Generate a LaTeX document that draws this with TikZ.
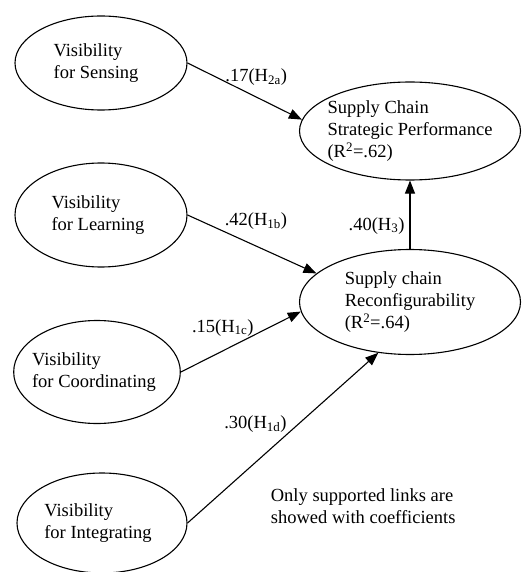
\documentclass[tikz,border=0pt]{standalone}
\usepackage{fontspec}
\setmainfont{Liberation Serif}
\usetikzlibrary{shapes,positioning,arrows.meta}

\begin{document}
\begin{tikzpicture}[x=1pt,y=1pt,on grid,>={Triangle[length=13pt,width=10pt]},
   line width=1.1pt,font=\fontsize{18.5pt}{22pt}\selectfont,
   construct/.style={draw,ellipse,align=left,inner xsep=-6pt,inner ysep=0pt,minimum width=172pt,minimum height=96pt},
   coef/.style={inner sep=2pt}]
   \useasboundingbox (0,0) rectangle (529,-572);

   \node[construct,minimum height=94pt] (sense) at (101,-63) {Visibility\\for Sensing\hspace*{10pt}};
   \node[construct,minimum height=104pt] (learn) [below=152pt of sense] {Visibility\\for Learning\hspace*{6pt}};
   \node[construct,minimum width=161pt,minimum height=103pt] (coord) [below left=157pt and 4pt of learn] {Visibility\\for Coordinating\hspace*{6pt}};
   \node[construct,minimum width=170pt,minimum height=100pt] (integ) [below right=151pt and 5pt of coord] {Visibility\\for Integrating\hspace*{8pt}};
   \node[construct,minimum width=221pt,minimum height=98pt] (scsp) [below right=68pt and 309pt of sense] {Supply Chain\\Strategic Performance\\(R\textsuperscript{2}=.62)};
   \node[construct,minimum width=221pt,minimum height=105pt] (scr) [below=171pt of scsp] {Supply chain\\Reconfigurability\\(R\textsuperscript{2}=.64)};

   \node[align=left,anchor=west] (note) at (267,-506) {Only supported links are\\showed with coefficients};

    \path[->]
    (sense.east) edge node[coef,pos=.6,above=9pt] {.17(H\textsubscript{2a})} (scsp.174)
    (learn.east) edge node[coef,pos=.53,above=14pt] {.42(H\textsubscript{1b})} (scr.163)
    (coord.east) edge node[coef,pos=.35,above=12pt] {.15(H\textsubscript{1c})} (scr.185)
    (integ.east) edge node[coef,pos=.58,left=9pt] {.30(H\textsubscript{1d})} (scr.238)
    (scr.north) edge node[coef,pos=.34,left=3pt] {.40(H\textsubscript{3})} (scsp.south);
\end{tikzpicture}
\end{document}
